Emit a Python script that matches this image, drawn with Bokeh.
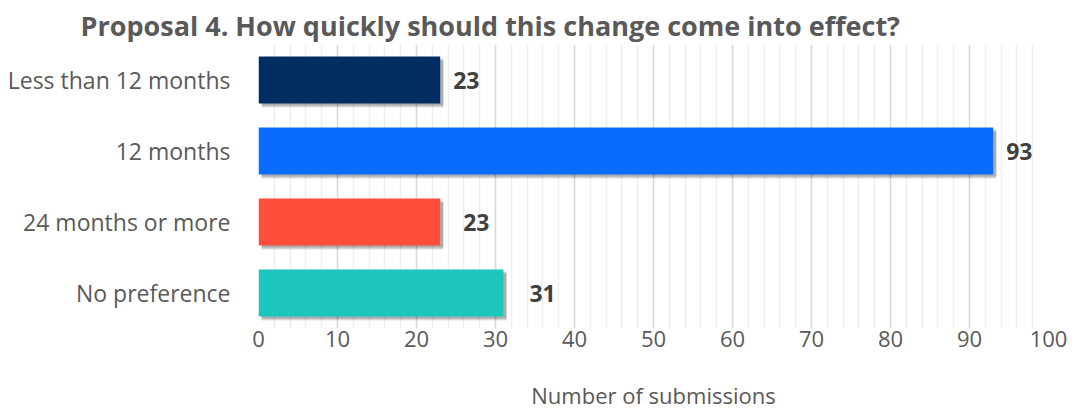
from bokeh.plotting import figure
from bokeh.models import ColumnDataSource, SingleIntervalTicker, Range1d, FactorRange
from bokeh.transform import dodge
from bokeh.core.properties import value
from bokeh.embed import file_html
from bokeh.resources import INLINE

categories = ["Less than 12 months", "12 months", "24 months or more", "No preference"]
counts = [23, 93, 23, 31]
colors = ["#002D62", "#0A6CFF", "#FF4F3B", "#1CC6BD"]
title_text = "Proposal 4. How quickly should this change come into effect?"
x_title = "Number of submissions"
label_nudge_px = [13, 13, 23, 26]   # data-label offsets as placed in the original

FONT = "Open Sans"

src = ColumnDataSource(dict(cat=categories, val=counts, col=colors,
                            lbl=[str(v) for v in counts], nudge=label_nudge_px))

p = figure(width=1075, height=412, output_backend="svg", toolbar_location=None,
           y_range=FactorRange(*reversed(categories), range_padding=0),
           x_range=Range1d(0, 100),
           min_border_left=258, min_border_right=27, min_border_top=44, min_border_bottom=84)
p.outline_line_color = None
p.background_fill_color = "white"
p.border_fill_color = "white"

# soft shadows
src_sh = ColumnDataSource(dict(cat=categories, val=[v + 0.4 for v in counts]))
for dy, a in [(-0.06, 0.08), (-0.045, 0.12), (-0.03, 0.16)]:
    p.hbar(y=dodge("cat", dy, range=p.y_range), left=0.4, right="val", height=0.66,
           source=src_sh, fill_color="black", fill_alpha=a, line_color=None)

p.hbar(y="cat", left=0, right="val", height=0.66, source=src,
       fill_color="col", line_color=None)

p.text(x="val", y="cat", text="lbl", source=src, x_offset="nudge",
       text_font=value(FONT), text_font_size="23px", text_font_style="bold",
       text_color="#404040", text_baseline="middle", text_align="left")

ticker = SingleIntervalTicker(interval=10, num_minor_ticks=5)
p.xaxis.ticker = ticker
p.xgrid.ticker = ticker
p.xgrid.grid_line_color = "#D9D9D9"
p.xgrid.grid_line_width = 1.5
p.xgrid.minor_grid_line_color = "#EEEEEE"
p.xgrid.minor_grid_line_width = 1.5
p.ygrid.grid_line_color = None

p.xaxis.axis_line_color = None
p.xaxis.major_tick_line_color = None
p.xaxis.minor_tick_line_color = None
p.xaxis.major_label_text_font = FONT
p.xaxis.major_label_text_font_size = "22px"
p.xaxis.major_label_text_color = "#595959"
p.xaxis.major_label_standoff = -4
p.xaxis.axis_label = x_title
p.xaxis.axis_label_text_font = FONT
p.xaxis.axis_label_text_font_size = "22px"
p.xaxis.axis_label_text_font_style = "normal"
p.xaxis.axis_label_text_color = "#595959"
p.xaxis.axis_label_standoff = 30

p.yaxis.axis_line_color = None
p.yaxis.major_tick_line_color = None
p.yaxis.minor_tick_line_color = None
p.yaxis.major_label_text_font = FONT
p.yaxis.major_label_text_font_size = "23px"
p.yaxis.major_label_text_color = "#595959"
p.yaxis.major_label_standoff = 22

p.title.text = title_text
p.title.text_font = FONT
p.title.text_font_size = "27px"
p.title.text_font_style = "bold"
p.title.text_color = "#595959"
p.title.align = "left"
p.title.offset = -178
p.title.standoff = 2

open("out.html", "w").write(file_html(p, INLINE))
